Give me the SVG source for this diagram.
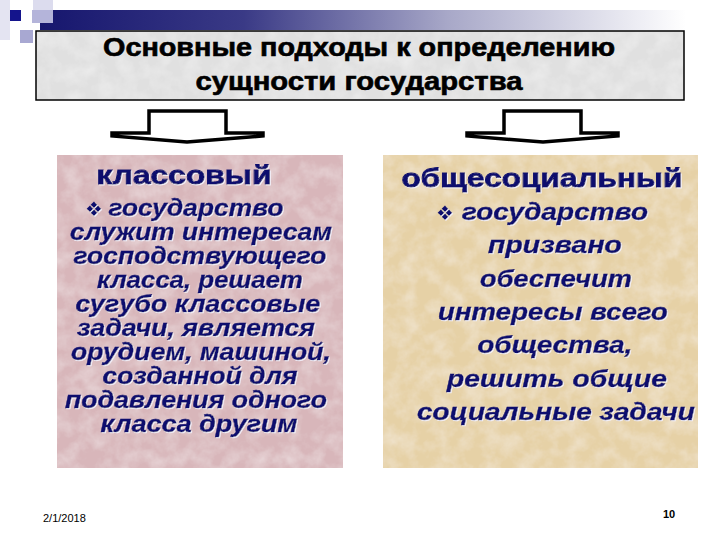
<svg xmlns="http://www.w3.org/2000/svg" width="720" height="540" viewBox="0 0 720 540">
<style>
.title{font-family:"Liberation Sans",Arial,sans-serif;font-weight:bold;font-size:25px;fill:#000;stroke:#000;stroke-width:0.6;text-anchor:middle}
.head{font-family:"Liberation Sans",Arial,sans-serif;font-weight:bold;font-size:26px;fill:#10106e;stroke:#10106e;stroke-width:0.8;text-anchor:middle;filter:url(#ts)}
.body{font-family:"Liberation Sans",Arial,sans-serif;font-weight:bold;font-style:italic;font-size:23px;fill:#10106e;stroke:#10106e;stroke-width:0.4;text-anchor:middle;filter:url(#ts)}
.bul{font-family:"DejaVu Sans",sans-serif;font-size:20px;fill:#10106e;filter:url(#ts)}
.arrow{fill:#fff;stroke:#000;stroke-width:3.5;stroke-linejoin:miter}
.foot{font-family:"Liberation Sans",Arial,sans-serif;font-size:11px;fill:#000}
</style>
<defs>
<linearGradient id="bar" x1="0" y1="0" x2="1" y2="0">
<stop offset="0" stop-color="#16166e"/>
<stop offset="0.3" stop-color="#3a3a86"/>
<stop offset="0.6" stop-color="#a8a8c8"/>
<stop offset="0.95" stop-color="#ffffff"/>
</linearGradient>
<filter id="tex" x="0" y="0" width="1" height="1">
<feTurbulence type="fractalNoise" baseFrequency="0.06" numOctaves="4" seed="5" result="n"/>
<feColorMatrix in="n" type="matrix" values="0 0 0 0 1 0 0 0 0 1 0 0 0 0 1 0.6 0 0 0 -0.22" result="w"/>
<feComposite in="w" in2="SourceGraphic" operator="atop"/>
</filter>
<filter id="ts" x="-5%" y="-20%" width="110%" height="140%">
<feOffset in="SourceAlpha" dx="1" dy="1" result="o"/>
<feFlood flood-color="#f2f0fa"/>
<feComposite in2="o" operator="in" result="s"/>
<feMerge><feMergeNode in="s"/><feMergeNode in="SourceGraphic"/></feMerge>
</filter>
</defs>
<rect width="720" height="540" fill="#fff"/>
<g id="decor">
<rect x="0" y="0" width="10" height="40" fill="#e4e4f2"/>
<rect x="33" y="0" width="20" height="10" fill="#dcdcee"/>
<rect x="40" y="10" width="680" height="20" fill="url(#bar)"/>
<rect x="32" y="10" width="21" height="13" fill="#b4b4da"/>
<rect x="20" y="30" width="13" height="13" fill="#a8a8d2"/>
<rect x="10" y="10" width="11" height="11" fill="#14148c"/>
</g>
<g id="title">
<rect x="36" y="31" width="648" height="69" fill="#e0e0e0" filter="url(#tex)"/>
<rect x="36" y="31" width="648" height="69" fill="none" stroke="#000" stroke-width="1.5"/>
<text class="title" x="359" y="56" textLength="512" lengthAdjust="spacingAndGlyphs">Основные подходы к определению</text>
<text class="title" x="359" y="90" textLength="327" lengthAdjust="spacingAndGlyphs">сущности государства</text>
</g>
<g id="connectors">
<path class="arrow" d="M112,133 L149,133 L149,111 L226,111 L226,133 L263,133 L263,136 L187,142 L112,136 Z"/>
<path class="arrow" d="M467,133 L504,133 L504,111 L581,111 L581,133 L618,133 L618,136 L543,142 L467,136 Z"/>
</g>
<g id="class-node">
<rect x="57" y="155" width="286" height="313" fill="#d8b6ba" filter="url(#tex)"/>
<text class="head" x="184" y="184" textLength="175" lengthAdjust="spacingAndGlyphs">классовый</text>
<text class="bul" x="85" y="216">❖</text>
<text class="body" x="196" y="216" textLength="175" lengthAdjust="spacingAndGlyphs">государство</text>
<text class="body" x="201" y="240" textLength="262" lengthAdjust="spacingAndGlyphs">служит интересам</text>
<text class="body" x="200" y="264" textLength="253" lengthAdjust="spacingAndGlyphs">господствующего</text>
<text class="body" x="200" y="288" textLength="206" lengthAdjust="spacingAndGlyphs">класса, решает</text>
<text class="body" x="198" y="312" textLength="245" lengthAdjust="spacingAndGlyphs">сугубо классовые</text>
<text class="body" x="196" y="336" textLength="238" lengthAdjust="spacingAndGlyphs">задачи, является</text>
<text class="body" x="201" y="360" textLength="260" lengthAdjust="spacingAndGlyphs">орудием, машиной,</text>
<text class="body" x="200" y="384" textLength="195" lengthAdjust="spacingAndGlyphs">созданной для</text>
<text class="body" x="196" y="408" textLength="262" lengthAdjust="spacingAndGlyphs">подавления одного</text>
<text class="body" x="199" y="432" textLength="197" lengthAdjust="spacingAndGlyphs">класса другим</text>
</g>
<g id="social-node">
<rect x="383" y="155" width="315" height="313" fill="#e6d1a6" filter="url(#tex)"/>
<text class="head" x="542" y="187" textLength="281" lengthAdjust="spacingAndGlyphs">общесоциальный</text>
<text class="bul" x="436" y="220">❖</text>
<text class="body" x="555" y="220" textLength="186" lengthAdjust="spacingAndGlyphs">государство</text>
<text class="body" x="555" y="253" textLength="134" lengthAdjust="spacingAndGlyphs">призвано</text>
<text class="body" x="556" y="287" textLength="152" lengthAdjust="spacingAndGlyphs">обеспечит</text>
<text class="body" x="553" y="320" textLength="230" lengthAdjust="spacingAndGlyphs">интересы всего</text>
<text class="body" x="555" y="353" textLength="155" lengthAdjust="spacingAndGlyphs">общества,</text>
<text class="body" x="557" y="387" textLength="220" lengthAdjust="spacingAndGlyphs">решить общие</text>
<text class="body" x="556" y="420" textLength="278" lengthAdjust="spacingAndGlyphs">социальные задачи</text>
</g>
<g id="footer">
<text class="foot" x="43" y="522">2/1/2018</text>
<text class="foot" x="663" y="518" font-weight="bold" font-size="12">10</text>
</g>
</svg>
